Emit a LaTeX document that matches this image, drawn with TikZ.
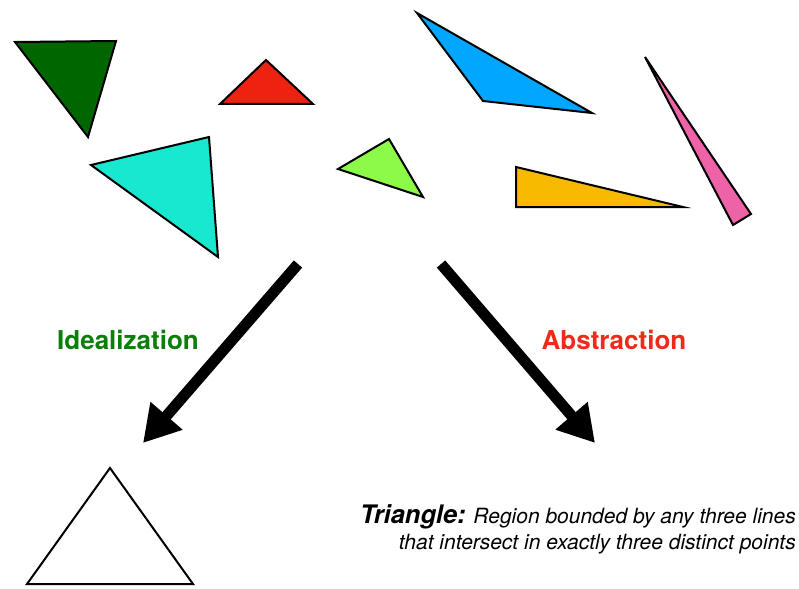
\documentclass[tikz,border=0pt]{standalone}
\usepackage{fontspec}
\setmainfont{TeX Gyre Heros}
\usetikzlibrary{arrows.meta}
\definecolor{forest}{HTML}{006600}
\definecolor{scarlet}{HTML}{EE2211}
\definecolor{aqua}{HTML}{18E8D0}
\definecolor{lime}{HTML}{8CFA48}
\definecolor{sky}{HTML}{00A6FF}
\definecolor{gold}{HTML}{F7BA00}
\definecolor{rose}{HTML}{EE62A8}
\definecolor{idealgreen}{HTML}{0A800A}
\definecolor{abstred}{HTML}{EE2A1A}

\begin{document}
\begin{tikzpicture}[
 x=1pt,y=-1pt,
 tri/.style={draw=black,line width=2pt,line join=miter},
 bigarrow/.style={line width=11pt,-{Triangle[length=36pt,width=40pt]}},
 tag/.style={font=\fontsize{26}{30}\selectfont\bfseries}
]
\useasboundingbox (0,0) rectangle (799,588);
% real-world triangles
\filldraw[tri,fill=forest] (15,42) -- (116,41) -- (88,137) -- cycle;
\filldraw[tri,fill=scarlet] (220,104) -- (266,60) -- (313,104) -- cycle;
\filldraw[tri,fill=aqua] (91,165) -- (209,137) -- (218,257) -- cycle;
\filldraw[tri,fill=lime] (338,169) -- (389,139) -- (423,197) -- cycle;
\filldraw[tri,fill=sky] (417,13) -- (483,101) -- (592,113) -- cycle;
\filldraw[tri,fill=gold] (516,167) -- (516,207) -- (683,207) -- cycle;
\filldraw[tri,fill=rose] (645,57) -- (751,214) -- (733,225) -- cycle;
% the two ways
\coordinate (idealfrom) at (298,264);
\coordinate (idealto) at (143,443);
\coordinate (abstfrom) at (441,264);
\coordinate (abstto) at (595,443);
\draw[bigarrow] (idealfrom) -- (idealto);
\draw[bigarrow] (abstfrom) -- (abstto);
\node[tag,text=idealgreen] (ideal) at (128,340) {Idealization};
\node[tag,text=abstred] (abst) at (614,340) {Abstraction};
% ideal triangle
\draw[tri] (27,584) -- (110,468) -- (193,584) -- cycle;
% definition
\node[anchor=north east,align=right,inner sep=0pt,font=\fontsize{21}{26}\selectfont\itshape] (defn) at (796,504)
 {{\fontsize{25.5}{26}\selectfont\bfseries Triangle:} Region bounded by any three lines\\that intersect in exactly three distinct points};
\end{tikzpicture}
\end{document}
